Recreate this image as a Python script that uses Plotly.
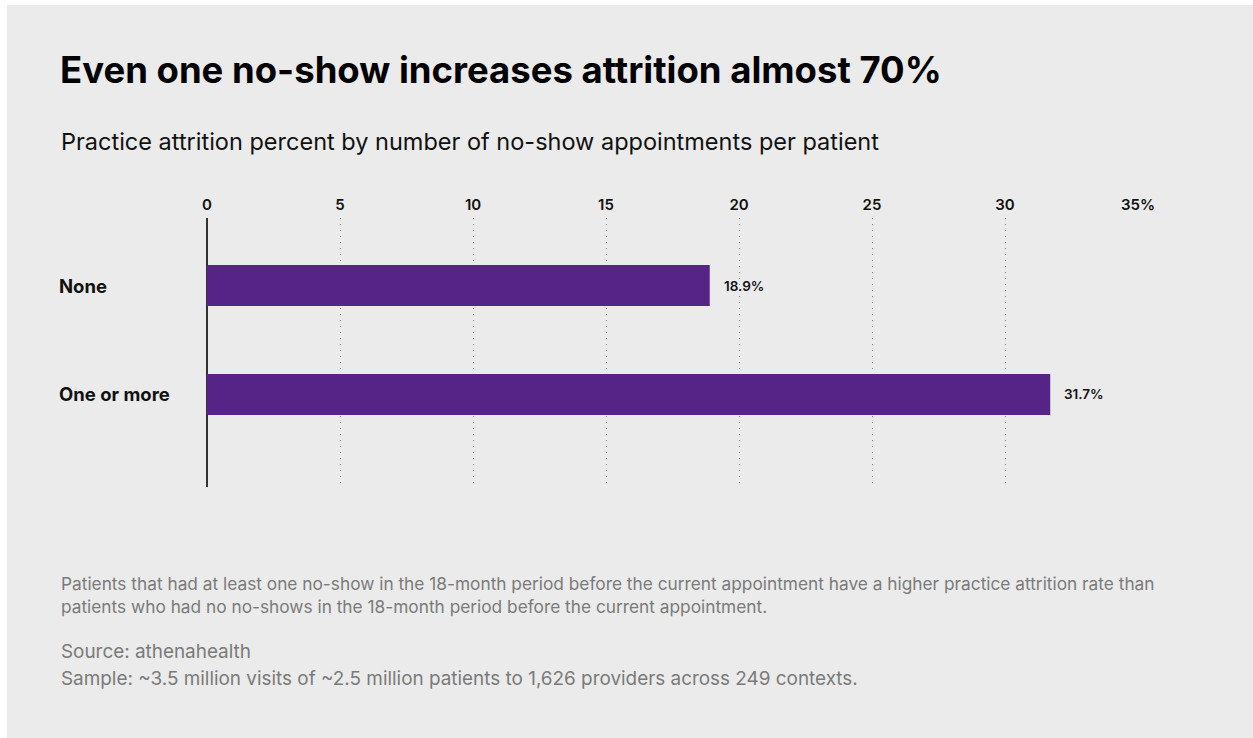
import plotly.graph_objects as go

# Data
categories = ["None", "One or more"]
attrition_pct = [18.9, 31.7]
tick_values = [0, 5, 10, 15, 20, 25, 30, 35]
tick_labels = ["0", "5", "10", "15", "20", "25", "30", "35%"]

title_text = "Even one no-show increases attrition almost 70%"
subtitle_text = "Practice attrition percent by number of no-show appointments per patient"
note_lines = [
    "Patients that had at least one no-show in the 18-month period before the current appointment have a higher practice attrition rate than",
    "patients who had no no-shows in the 18-month period before the current appointment.",
]
source_lines = [
    "Source: athenahealth",
    "Sample: ~3.5 million visits of ~2.5 million patients to 1,626 providers across 249 contexts.",
]

# Canvas / plot-area geometry (pixels)
W, H = 1253, 738
L, R, T, B = 207, 1138, 218, 487
PW, PH = R - L, B - T


def px_x(x):
    return (x - L) / PW


def px_y(y):
    return (B - y) / PH


FONT = "Inter"
BAR_COLOR = "#562486"
BG = "#ebebeb"

fig = go.Figure()
fig.add_trace(
    go.Bar(
        x=attrition_pct,
        y=list(range(len(categories))),
        orientation="h",
        marker=dict(color=BAR_COLOR, line=dict(width=0)),
        width=0.376,
        cliponaxis=False,
        hoverinfo="skip",
    )
)

annotations = []
# Value labels just right of each bar
for i, v in enumerate(attrition_pct):
    annotations.append(
        dict(
            text=f"{v:.1f}%", x=v, xref="x", y=i, yref="y",
            xanchor="left", yanchor="middle", xshift=12, showarrow=False,
            font=dict(family=FONT, size=13.5, color="#111111", weight=600),
        )
    )
# Category labels, left-aligned
for i, c in enumerate(categories):
    annotations.append(
        dict(
            text=c, x=px_x(57), xref="paper", y=i, yref="y",
            xanchor="left", yanchor="middle", showarrow=False,
            font=dict(family=FONT, size=18.5, color="#111111", weight="bold"),
        )
    )
# Title and subtitle
annotations.append(
    dict(
        text=title_text, x=px_x(58), xref="paper", y=px_y(70), yref="paper",
        xanchor="left", yanchor="middle", showarrow=False,
        font=dict(family=FONT, size=36.5, color="#000000", weight="bold"),
    )
)
annotations.append(
    dict(
        text=subtitle_text, x=px_x(59), xref="paper", y=px_y(141), yref="paper",
        xanchor="left", yanchor="middle", showarrow=False,
        font=dict(family=FONT, size=23.5, color="#111111"),
    )
)
# Footnotes
for line, ypx in zip(note_lines, [583, 606]):
    annotations.append(
        dict(
            text=line, x=px_x(59), xref="paper", y=px_y(ypx), yref="paper",
            xanchor="left", yanchor="middle", showarrow=False,
            font=dict(family=FONT, size=17.3, color="#7a7a7a"),
        )
    )
for line, ypx in zip(source_lines, [651, 678]):
    annotations.append(
        dict(
            text=line, x=px_x(59), xref="paper", y=px_y(ypx), yref="paper",
            xanchor="left", yanchor="middle", showarrow=False,
            font=dict(family=FONT, size=18.9, color="#7a7a7a"),
        )
    )

fig.update_layout(
    width=W, height=H,
    margin=dict(l=L, r=W - R, t=T, b=H - B, pad=0),
    paper_bgcolor="#ffffff",
    plot_bgcolor="rgba(0,0,0,0)",
    showlegend=False,
    annotations=annotations,
    shapes=[
        dict(
            type="rect", xref="paper", yref="paper", layer="below",
            x0=px_x(7), x1=px_x(W + 20), y0=px_y(H + 20), y1=px_y(5),
            fillcolor=BG, line=dict(width=0),
        )
    ],
    xaxis=dict(
        range=[0, 35],
        side="top",
        tickvals=tick_values,
        ticktext=tick_labels,
        tickfont=dict(family=FONT, size=15, color="#111111", weight=600),
        ticks="",
        ticklabelstandoff=4,
        showgrid=True,
        gridcolor="#858585",
        gridwidth=1,
        griddash="1px,5px",
        zeroline=True,
        zerolinecolor="#333333",
        zerolinewidth=1.5,
        showline=False,
        fixedrange=True,
    ),
    yaxis=dict(
        range=[1.85, -0.62],
        showticklabels=False,
        showgrid=False,
        zeroline=False,
        showline=False,
        ticks="",
        fixedrange=True,
    ),
)

fig.write_html("out.html")
